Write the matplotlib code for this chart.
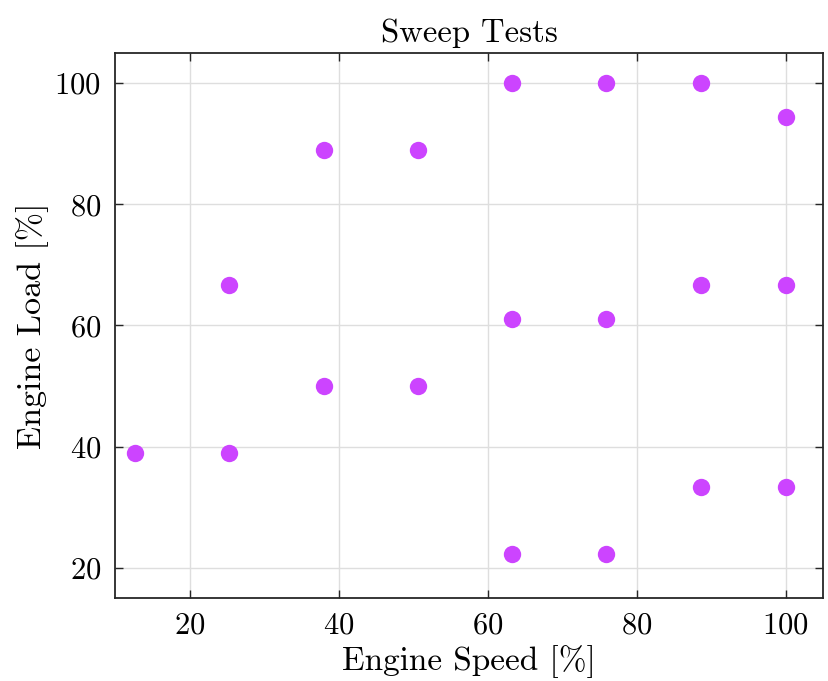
import matplotlib
matplotlib.use("Agg")
import matplotlib.pyplot as plt
import numpy as np

#Datos de los ensayos de barrido:
engineSpeed = [12.7, 25.3, 25.3, 38.0, 38.0, 50.6, 50.6,
               63.3, 63.3, 63.3, 75.9, 75.9, 75.9,
               88.6, 88.6, 88.6, 100.0, 100.0, 100.0]
engineLoad = [38.9, 38.9, 66.7, 50.0, 88.9, 50.0, 88.9,
              22.2, 61.1, 100.0, 22.2, 61.1, 100.0,
              33.3, 66.7, 100.0, 33.3, 66.7, 94.4]
xTicks = [20, 40, 60, 80, 100]
yTicks = [20, 40, 60, 80, 100]

plt.rcParams['font.family'] = 'serif'
plt.rcParams['font.serif'] = ['cmr10', 'DejaVu Serif']
plt.rcParams['mathtext.fontset'] = 'cm'
plt.rcParams['axes.formatter.use_mathtext'] = True

fig = plt.figure(figsize=(8.29, 6.81), dpi=100)
ax = fig.add_axes([0.1387, 0.1219, 0.8541, 0.8003])

ax.plot(engineSpeed, engineLoad, 'o', color='#CC44FF', markersize=12.5,
        markeredgewidth=0, zorder=3)

ax.set_xlim(10, 105)
ax.set_ylim(15, 105)
ax.set_xticks(xTicks)
ax.set_yticks(yTicks)
ax.grid(True, color='#dedede', linewidth=1.0)
ax.set_axisbelow(True)
ax.tick_params(direction='in', top=True, right=True, length=6, width=1.0,
               color='#262626', labelsize=22, pad=10)
for s in ax.spines.values():
    s.set_linewidth(1.3)
    s.set_color('#262626')

ax.set_xlabel('Engine Speed [%]', fontsize=24, labelpad=4)
ax.set_ylabel('Engine Load [%]', fontsize=24.5, labelpad=4)
ax.set_title('Sweep Tests', fontsize=23.5, pad=8)

fig.savefig('out.png', dpi=100)
